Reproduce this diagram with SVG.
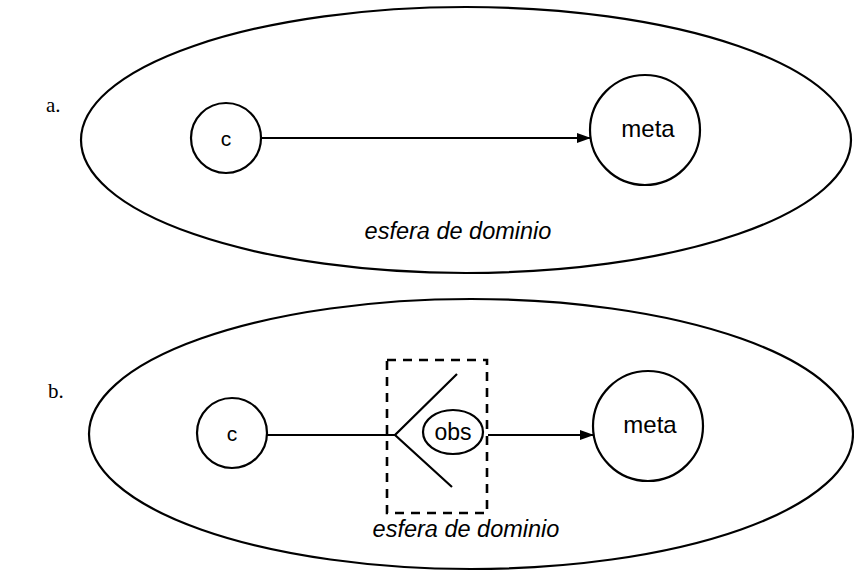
<svg xmlns="http://www.w3.org/2000/svg" width="854" height="572" viewBox="0 0 854 572">
<style>
.shape{fill:none;stroke:#000;stroke-width:2.2}
.lbl{font-family:"Liberation Sans",Arial,sans-serif;font-size:21px;fill:#000;text-anchor:middle}
.big{font-size:24px}
.mid{font-size:23px}
.dom{font-family:"Liberation Sans",Arial,sans-serif;font-size:23.5px;font-style:italic;fill:#000;text-anchor:middle}
.tag{font-family:"Liberation Serif","Times New Roman",serif;font-size:21px;fill:#000}
.conn{stroke:#000;stroke-width:2.2;fill:none}
</style>
<defs>
<marker id="ah" markerWidth="14" markerHeight="10" refX="13" refY="5" orient="auto" markerUnits="userSpaceOnUse">
<path d="M0,0 L14,5 L0,10 Z" fill="#000"/>
</marker>
</defs>
<g id="diagram-a">
<text class="tag" x="46" y="112">a.</text>
<g id="a-sphere"><ellipse class="shape" cx="466" cy="140" rx="385" ry="133"/><text class="dom" x="458" y="239">esfera de dominio</text></g>
<g id="a-c"><circle class="shape" cx="226" cy="138" r="35"/><text class="lbl" x="226" y="146">c</text></g>
<g id="a-meta"><circle class="shape" cx="645" cy="130" r="55"/><text class="lbl big" x="648" y="137">meta</text></g>
</g>
<g id="diagram-b">
<text class="tag" x="48" y="398">b.</text>
<g id="b-sphere"><ellipse class="shape" cx="471" cy="434" rx="382" ry="135"/><text class="dom" x="466" y="537">esfera de dominio</text></g>
<g id="b-c"><circle class="shape" cx="232" cy="433" r="35"/><text class="lbl" x="232" y="441">c</text></g>
<g id="b-obsbox"><rect x="387" y="360" width="100" height="153" fill="none" stroke="#000" stroke-width="2.6" stroke-dasharray="9,7"/></g>
<g id="b-chevron"><polyline class="shape" points="457,374 395,435 452,487"/></g>
<g id="b-obs"><ellipse class="shape" cx="453" cy="432" rx="30" ry="22"/><text class="lbl mid" x="453" y="440">obs</text></g>
<g id="b-meta"><circle class="shape" cx="648" cy="426" r="55"/><text class="lbl big" x="650" y="433">meta</text></g>
</g>
<g id="connectors">
<line class="conn" x1="261" y1="138" x2="590" y2="138" marker-end="url(#ah)"/>
<line class="conn" x1="267" y1="435" x2="395" y2="435"/>
<line class="conn" x1="488" y1="435" x2="593" y2="435" marker-end="url(#ah)"/>
</g>
</svg>
